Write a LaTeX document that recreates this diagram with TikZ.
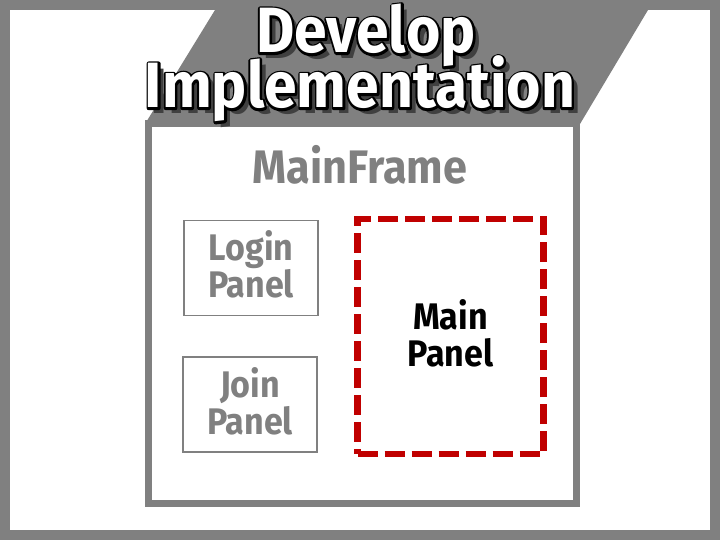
\documentclass[tikz,border=0pt]{standalone}
\usepackage{fontspec}
\setmainfont{Fira Sans}
\newfontfamily\titlefont[FakeStretch=0.92]{Fira Sans}
\newfontfamily\labelfont[FakeStretch=0.92]{Fira Sans}
\definecolor{framegray}{HTML}{808080}
\definecolor{shadowgray}{HTML}{404040}
\definecolor{panelred}{HTML}{C00000}
% black outline stroke under the white title text
\newcommand{\stroked}[1]{{\color{black}\special{pdf:literal direct 2 Tr 4.4 w 1 j}#1\special{pdf:literal direct 0 Tr 1 w 0 j}}}

\begin{document}
\begin{tikzpicture}[x=1pt,y=-1pt,
    titletext/.style={anchor=base, inner sep=0pt, font=\titlefont\bfseries\fontsize{64}{64}\selectfont},
    mainframe/.style={draw=framegray, line width=7pt, fill=white, minimum width=428pt, minimum height=380pt},
    panelbox/.style={draw=framegray, line width=1.2pt, minimum width=134pt, minimum height=95pt},
    mainpanel/.style={draw=panelred, line width=6.5pt, dash pattern=on 20pt off 7pt,
        minimum width=186pt, minimum height=235pt},
    paneltext/.style={align=center, inner sep=0pt, yshift=3.5pt, text=framegray,
        font=\labelfont\bfseries\fontsize{37}{37}\selectfont},
    labelnode/.style={anchor=base, inner sep=0pt, text=framegray, font=\labelfont\bfseries\fontsize{47}{47}\selectfont}]
\useasboundingbox (0,0) rectangle (720,540);
% background
\fill[framegray] (0,0) rectangle (720,540);
\fill[white] (10,10) rectangle (710,530);
\fill[framegray] (215,10) -- (648,10) -- (580,124) -- (145,124) -- cycle;
% main frame
\node[mainframe] (frame) at (362.5,313.5) {};
\node[labelnode] (frametitle) at (360,184) {MainFrame};
% panels
\node[panelbox] (login) at (251,268) {};
\node[panelbox] (join) at (250,404.5) {};
\node[mainpanel] (main) at (450.5,336.5) {};
\node[paneltext] (login text) at (login) {Login\\Panel};
\node[paneltext] (join text) at (join) {Join\\Panel};
\node[paneltext, text=black] (main text) at (main) {Main\\Panel};
% title
\node[titletext, text=shadowgray] (develop shadow) at (372,59) {Develop};
\node[titletext, text=shadowgray] (impl shadow) at (366,114) {Implementation};
\node[titletext] (develop outline) at (366,53) {\stroked{Develop}};
\node[titletext] (impl outline) at (360,108) {\stroked{Implementation}};
\node[titletext, text=white] (develop) at (366,53) {Develop};
\node[titletext, text=white] (impl) at (360,108) {Implementation};
\end{tikzpicture}
\end{document}
